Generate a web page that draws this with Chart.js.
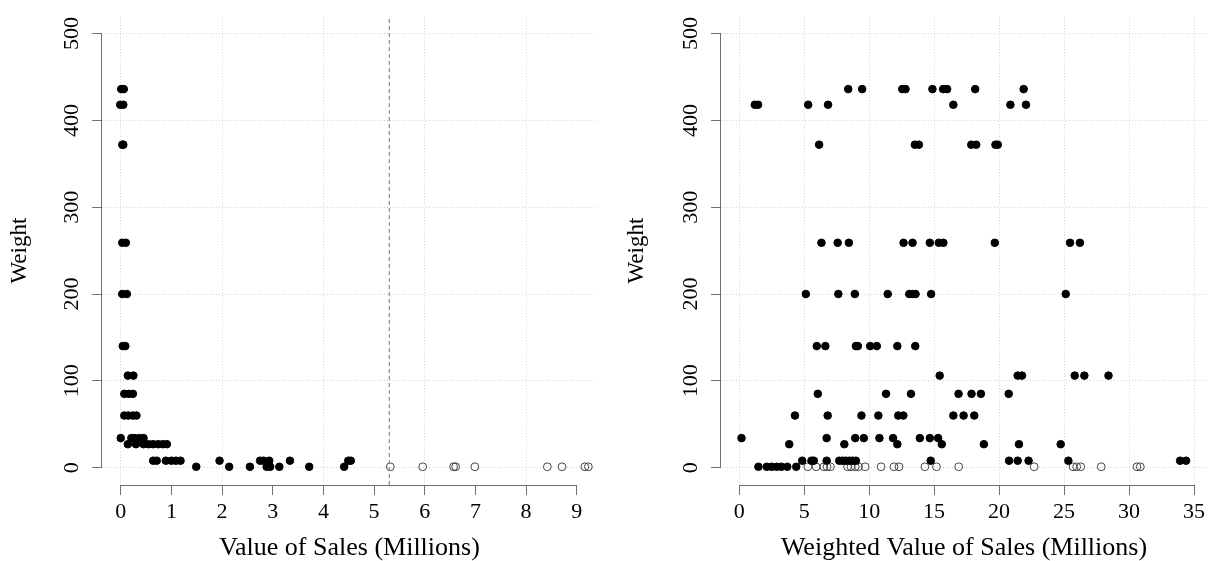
<!DOCTYPE html>
<html>
<head>
<meta charset="utf-8">
<script src="https://cdn.jsdelivr.net/npm/chart.js@4.4.0/dist/chart.umd.min.js"></script>
<style>
  body { margin: 0; background: #fff; }
  #wrap { position: relative; width: 1212px; height: 561px; }
  canvas { position: absolute; top: 0; }
</style>
</head>
<body>
<div id="wrap">
  <canvas id="salesChart" width="606" height="561" style="left:0"></canvas>
  <canvas id="weightedChart" width="606" height="561" style="left:606px"></canvas>
</div>
<script>
// weight levels (y) shared by both panels
const weightLevels = [436, 418, 372, 259, 200, 140, 106, 85, 60, 34, 27, 8, 1];

// left panel: value of sales (millions), one list per weight level
const salesX = [
  [0.01, 0.06],
  [-0.01, 0.05],
  [0.03, 0.05],
  [0.03, 0.10],
  [0.03, 0.12],
  [0.04, 0.09],
  [0.14, 0.25],
  [0.07, 0.16, 0.24],
  [0.07, 0.15, 0.24, 0.31],
  [0.00, 0.21, 0.28, 0.37, 0.45],
  [0.14, 0.30, 0.45, 0.55, 0.64, 0.74, 0.83, 0.91],
  [0.64, 0.71, 0.89, 1.00, 1.09, 1.18, 1.95, 2.75, 2.82, 2.93, 3.34, 4.49, 4.54],
  [1.49, 2.14, 2.55, 2.88, 2.95, 3.13, 3.72, 4.41]
];

// right panel: weighted value of sales (millions)
const weightedX = [
  [8.39, 9.46, 12.55, 12.8, 14.87, 15.69, 16.0, 18.16, 21.89],
  [1.2, 1.45, 5.31, 6.84, 16.48, 20.87, 22.07],
  [6.15, 13.52, 13.83, 17.86, 18.24, 19.72, 19.9],
  [6.33, 7.58, 8.44, 12.65, 13.34, 14.67, 15.36, 15.71, 19.67, 25.46, 26.22],
  [5.13, 7.63, 8.9, 11.43, 13.09, 13.34, 13.57, 14.77, 25.13],
  [5.97, 6.63, 8.98, 9.13, 10.08, 10.59, 12.17, 13.55],
  [15.43, 21.43, 21.76, 25.82, 26.56, 28.42],
  [6.05, 11.3, 13.22, 16.88, 17.88, 18.6, 20.74],
  [4.29, 6.81, 9.41, 10.71, 12.24, 12.63, 16.48, 17.27, 18.09],
  [0.18, 6.73, 8.93, 9.59, 10.79, 11.84, 13.9, 14.67, 15.31],
  [3.85, 8.09, 12.17, 15.59, 18.83, 21.53, 24.74],
  [4.85, 5.56, 5.74, 6.73, 7.7, 7.96, 8.21, 8.47, 8.72, 8.98, 14.74, 20.77, 21.43, 22.27, 25.33, 33.93, 34.39],
  [1.48, 2.12, 2.5, 2.88, 3.24, 3.7, 4.39]
];

// open circles (all at the lowest weight)
const openWeight = 1;
const salesOpenX = [5.32, 5.96, 6.57, 6.61, 6.99, 8.42, 8.71, 9.16, 9.23];
const weightedOpenX = [5.28, 5.92, 6.51, 6.76, 7.02, 8.34, 8.6, 8.93, 9.18, 9.69, 10.92, 11.91, 12.3,
  14.29, 15.18, 16.89, 22.7, 25.69, 25.97, 26.28, 27.86, 30.61, 30.87];

const salesCutoff = 5.3;

const serif = 'Liberation Serif, Times New Roman, serif';
const axisCol = '#707070';
const gridCol = '#d3d3d3';

function toPoints(levels, xs) {
  let pts = [];
  levels.forEach((w, i) => xs[i].forEach(v => pts.push({x: v, y: w})));
  return pts;
}

// R-style axis line: only from first to last tick
const rAxes = {
  id: 'rAxes',
  afterDraw(chart) {
    const {ctx, chartArea, scales} = chart;
    const x = scales.x, y = scales.y;
    const xt = x.ticks, yt = y.ticks;
    ctx.save();
    ctx.strokeStyle = axisCol;
    ctx.lineWidth = 1;
    ctx.beginPath();
    const by = Math.round(chartArea.bottom) + 0.5;
    ctx.moveTo(x.getPixelForValue(xt[0].value), by);
    ctx.lineTo(x.getPixelForValue(xt[xt.length - 1].value), by);
    const lx = Math.round(chartArea.left) - 0.5;
    ctx.moveTo(lx, y.getPixelForValue(yt[0].value));
    ctx.lineTo(lx, y.getPixelForValue(yt[yt.length - 1].value));
    ctx.stroke();
    ctx.restore();
  }
};

function makeChart(id, cfg) {
  return new Chart(document.getElementById(id).getContext('2d'), {
    type: 'scatter',
    data: { datasets: cfg.datasets },
    options: {
      responsive: false,
      animation: false,
      layout: { padding: { top: 10, right: cfg.padRight, bottom: 0, left: 0 } },
      plugins: { legend: { display: false }, tooltip: { enabled: false } },
      scales: {
        x: {
          type: 'linear',
          min: cfg.xMin, max: cfg.xMax,
          afterFit: s => { s.height = 76; },
          ticks: { stepSize: cfg.xStep, includeBounds: false, color: '#000', padding: 4,
                   font: { family: serif, size: 22 } },
          grid: { color: c => (c.tick && c.tick.value % cfg.xGrid === 0) ? gridCol : 'rgba(0,0,0,0)',
                  tickColor: axisCol, tickLength: 10, tickWidth: 1, lineWidth: 1 },
          border: { display: false, dash: [1, 2] },
          title: { display: true, text: cfg.xTitle, color: '#000', padding: { top: 0, bottom: 0 },
                   font: { family: serif, size: 26, lineHeight: 1 } }
        },
        y: {
          type: 'linear',
          min: -20, max: 520,
          afterFit: s => { s.width = cfg.yWidth; },
          ticks: { stepSize: 100, includeBounds: false, color: '#000', padding: 3,
                   minRotation: 90, maxRotation: 90, crossAlign: 'center',
                   font: { family: serif, size: 22 } },
          grid: { color: gridCol, tickColor: axisCol, tickLength: 10, tickWidth: 1, lineWidth: 1 },
          border: { display: false, dash: [1, 2] },
          title: { display: true, text: 'Weight', color: '#000', padding: { top: cfg.yTitlePad, bottom: 0 },
                   font: { family: serif, size: 23, lineHeight: 1.2 } }
        }
      }
    },
    plugins: [rAxes]
  });
}

const filledStyle = { backgroundColor: '#000', borderColor: '#000', borderWidth: 1, pointRadius: 3.8 };
const openStyle = { backgroundColor: 'rgba(0,0,0,0)', borderColor: '#444', borderWidth: 1, pointRadius: 3.9 };

makeChart('salesChart', {
  xMin: -0.37, xMax: 9.4, xStep: 1, xGrid: 2, yWidth: 102, yTitlePad: 6, padRight: 9,
  xTitle: 'Value of Sales (Millions)',
  datasets: [
    { data: [{x: salesCutoff, y: -20}, {x: salesCutoff, y: 520}], showLine: true, pointRadius: 0,
      borderColor: '#777', borderWidth: 1, borderDash: [4, 3] },
    Object.assign({ data: toPoints(weightLevels, salesX) }, filledStyle),
    Object.assign({ data: salesOpenX.map(v => ({x: v, y: openWeight})) }, openStyle)
  ]
});

makeChart('weightedChart', {
  xMin: -1.4, xMax: 36.0, xStep: 5, xGrid: 5, yWidth: 115, yTitlePad: 17, padRight: 1.4,
  xTitle: 'Weighted Value of Sales (Millions)',
  datasets: [
    Object.assign({ data: toPoints(weightLevels, weightedX) }, filledStyle),
    Object.assign({ data: weightedOpenX.map(v => ({x: v, y: openWeight})) }, openStyle)
  ]
});
</script>
</body>
</html>
